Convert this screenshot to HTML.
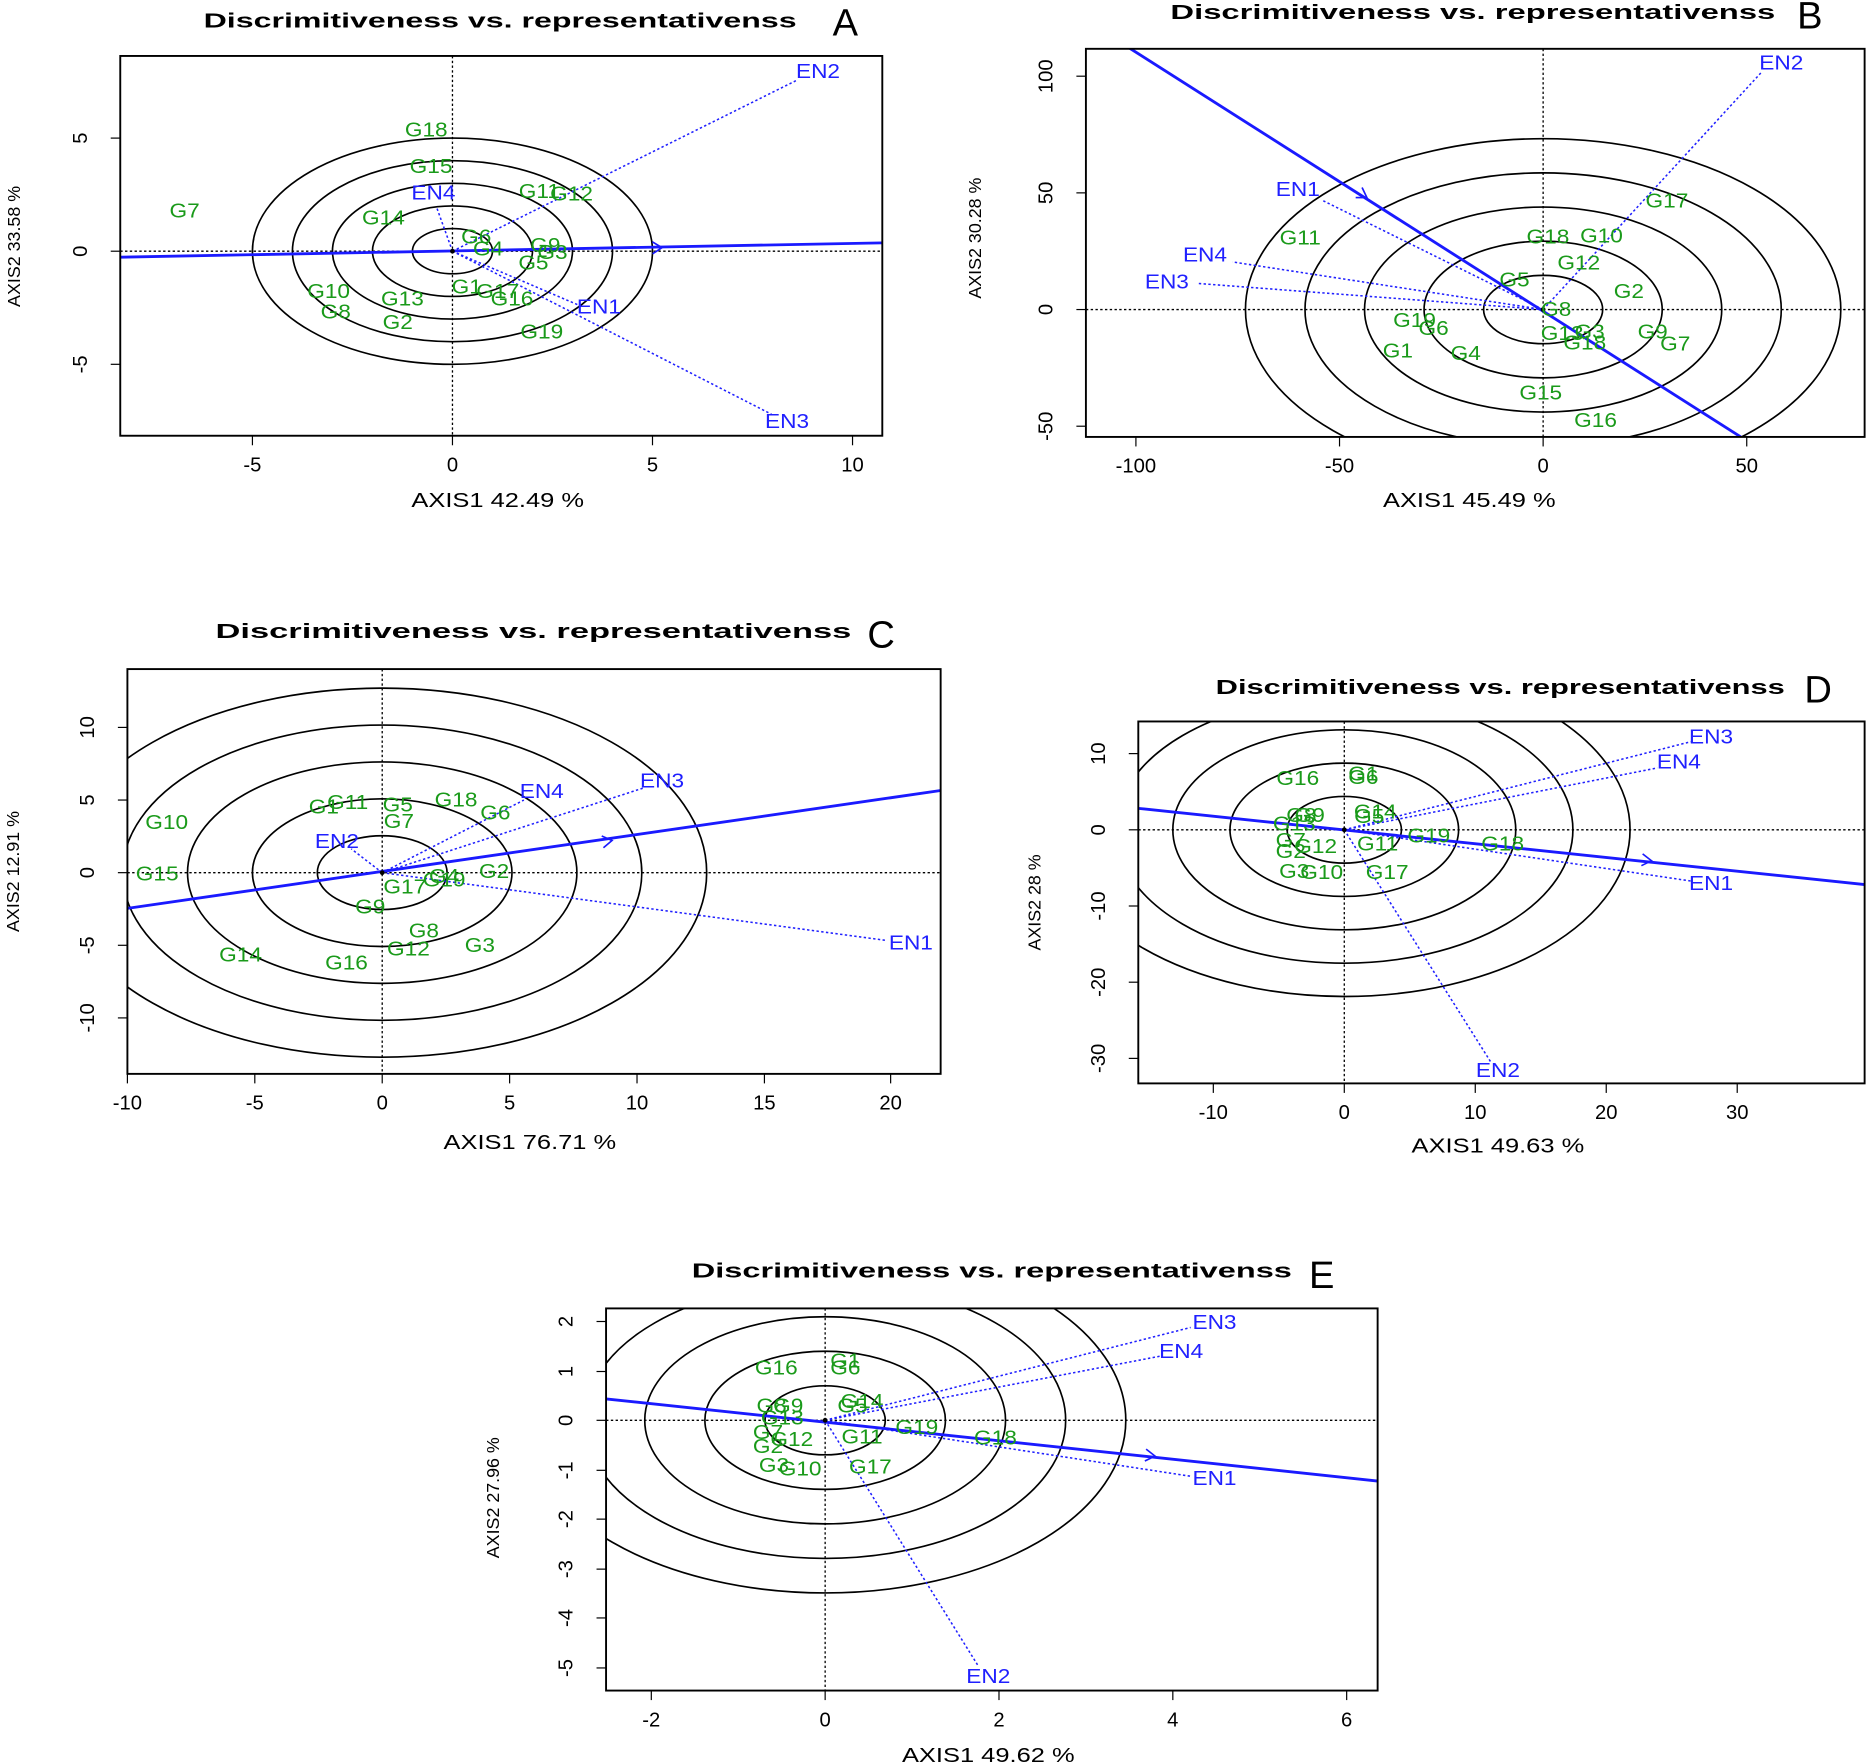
<!DOCTYPE html>
<html><head><meta charset="utf-8"><style>
html,body{margin:0;padding:0;background:#fff;}
svg{display:block;}
text{font-family:"Liberation Sans",Arial,sans-serif;}
</style></head><body>
<svg id="s" width="1867" height="1762" viewBox="0 0 1568 1480" preserveAspectRatio="none" xmlns="http://www.w3.org/2000/svg">
<defs></defs>
</svg>
<script>
const S=document.getElementById('s');const NS='http://www.w3.org/2000/svg';
function el(t,a,txt,par){const e=document.createElementNS(NS,t);for(const k in a)e.setAttribute(k,a[k]);if(txt!==undefined)e.textContent=txt;(par||S).appendChild(e);return e;}
let cid=0;
const FS=17;
function panel(p){
  const [x0,y0,x1,y1]=p.box;
  const id='c'+(cid++);
  const cp=el('clipPath',{id:id},undefined,S.querySelector('defs'));
  el('rect',{x:x0,y:y0,width:x1-x0,height:y1-y0},undefined,cp);
  const g=el('g',{'clip-path':'url(#'+id+')'});
  const [cx,cy]=p.c;
  p.r.forEach(([rx,ry])=>el('ellipse',{cx:cx,cy:cy,rx:rx,ry:ry,fill:'none',stroke:'#000','stroke-width':1.4},undefined,g));
  el('line',{x1:x0,y1:cy,x2:x1,y2:cy,stroke:'#000','stroke-width':1.1,'stroke-dasharray':'2,2'},undefined,g);
  el('line',{x1:cx,y1:y0,x2:cx,y2:y1,stroke:'#000','stroke-width':1.1,'stroke-dasharray':'2,2'},undefined,g);
  p.en.forEach(e=>{el('line',{x1:cx,y1:cy,x2:e[3],y2:e[4],stroke:'#2020ff','stroke-width':1.3,'stroke-dasharray':'2,2'},undefined,g);});
  el('line',{x1:p.avg[0],y1:p.avg[1],x2:p.avg[2],y2:p.avg[3],stroke:'#1a1aff','stroke-width':2.4},undefined,g);
  const [ax,ay]=p.arr;const dx=p.avg[2]-p.avg[0],dy=p.avg[3]-p.avg[1];const L=Math.hypot(dx,dy);const ux=dx/L,uy=dy/L;
  el('polyline',{points:`${ax-8*ux-5*uy},${ay-8*uy+5*ux} ${ax},${ay} ${ax-8*ux+5*uy},${ay-8*uy-5*ux}`,fill:'none',stroke:'#1a1aff','stroke-width':1.4},undefined,g);
  el('circle',{cx:cx,cy:cy,r:2,fill:'#000'},undefined,g);
  const tx=(t,c)=>{el('text',{x:t[1],y:t[2],'font-size':FS,fill:c,'text-anchor':'middle','dominant-baseline':'middle',transform:`translate(${t[1]} 0) scale(1.12 1) translate(${-t[1]} 0)`},t[0],g);};
  p.g.forEach(t=>tx(t,'#1a9a1a'));
  p.en.forEach(e=>tx(e,'#2020ff'));
  el('rect',{x:x0,y:y0,width:x1-x0,height:y1-y0,fill:'none',stroke:'#000','stroke-width':1.6});
  p.xt.forEach(t=>{el('line',{x1:t[1],y1:y1,x2:t[1],y2:y1+8,stroke:'#000'});el('text',{x:t[1],y:y1+30,'font-size':FS,'text-anchor':'middle'},t[0]);});
  p.yt.forEach(t=>{el('line',{x1:x0,y1:t[1],x2:x0-8,y2:t[1],stroke:'#000'});el('text',{x:x0-28,y:t[1],'font-size':FS,'text-anchor':'middle',transform:`rotate(-90 ${x0-28} ${t[1]})`},t[0]);});
  el('text',{x:p.xl[1],y:p.xl[2],'font-size':FS,'text-anchor':'middle',textLength:145,lengthAdjust:'spacingAndGlyphs'},p.xl[0]);
  el('text',{x:p.yl[1],y:p.yl[2],'font-size':15,'text-anchor':'middle',transform:`rotate(-90 ${p.yl[1]} ${p.yl[2]})`},p.yl[0]);
  el('text',{x:p.t[0],y:p.t[1],'font-size':17,'font-weight':'bold','text-anchor':'middle',textLength:p.t[2],lengthAdjust:'spacingAndGlyphs'},'Discrimitiveness vs. representativenss');
  el('text',{x:p.L[1],y:p.L[2],'font-size':32,'text-anchor':'middle'},p.L[0]);
}
function rr(a,b,n){const r=[];for(let k=1;k<=n;k++)r.push([a*k,b*k]);return r;}
// A
panel({box:[101,47,741,366],c:[380,211],r:rr(33.6,19,5),
 avg:[101,216,741,204],arr:[556,208],
 en:[['EN2',687,61,670,67],['EN4',364,163,367,175],['EN1',503,259,490,258],['EN3',661,355,648,348]],
 g:[['G18',358,110],['G15',362,141],['G11',453,162],['G12',480,164],['G7',155,178],['G14',322,184],['G6',400,200],['G4',410,210],['G9',458,207],['G3',464,213],['G5',448,222],['G1',392,242],['G17',418,246],['G16',430,252],['G10',276,246],['G13',338,252],['G8',282,263],['G2',334,272],['G19',455,280]],
 xt:[['-5',212],['0',380],['5',548],['10',716]],yt:[['5',116],['0',211],['-5',306]],
 xl:['AXIS1 42.49 %',418,426],yl:['AXIS2 33.58 %',17,207],t:[420,23,498],L:['A',710,30]});
// B
panel({box:[912,41,1566,367],c:[1296,260],r:rr(50,28.7,5),
 avg:[948,40,1462,367],arr:[1148,166],
 en:[['EN2',1496,54,1480,60],['EN1',1090,160,1110,168],['EN4',1012,215,1035,220],['EN3',980,238,1005,238]],
 g:[['G17',1400,170],['G18',1300,200],['G10',1345,199],['G12',1326,222],['G11',1092,201],['G2',1368,246],['G5',1272,236],['G8',1307,261],['G19',1188,270],['G6',1204,277],['G1',1174,296],['G4',1231,298],['G13',1312,281],['G3',1335,280],['G18',1331,289],['G9',1388,280],['G7',1407,290],['G15',1294,331],['G16',1340,354]],
 xt:[['-100',954],['-50',1125],['0',1296],['50',1467]],yt:[['100',64],['50',162],['0',260],['-50',358]],
 xl:['AXIS1 45.49 %',1234,426],yl:['AXIS2 30.28 %',824,200],t:[1237,16,508],L:['B',1520,24]});
// C
panel({box:[107,562,790,902],c:[321,733],r:rr(54.5,31,5),
 avg:[107,763,790,664],arr:[514,706],
 en:[['EN3',556,657,540,662],['EN4',455,666,440,672],['EN2',283,708,295,713],['EN1',765,793,745,790]],
 g:[['G10',140,692],['G15',132,735],['G1',272,679],['G11',292,675],['G5',334,677],['G18',383,673],['G6',416,684],['G7',335,691],['G4',373,737],['G2',415,733],['G17',340,746],['G19',373,740],['G9',311,763],['G8',356,783],['G3',403,795],['G12',343,798],['G16',291,810],['G14',202,803]],
 xt:[['-10',107],['-5',214],['0',321],['5',428],['10',535],['15',642],['20',748]],yt:[['10',611],['5',672],['0',733],['-5',794],['-10',855]],
 xl:['AXIS1 76.71 %',445,965],yl:['AXIS2 12.91 %',16,732],t:[448,536,534],L:['C',740,544]});
// D
panel({box:[956,606,1566,910],c:[1129,697],r:rr(48,28,5),
 avg:[956,679,1566,743],arr:[1387,723],
 en:[['EN3',1437,620,1420,623],['EN4',1410,641,1392,645],['EN1',1437,743,1420,740],['EN2',1258,900,1252,892]],
 g:[['G16',1090,655],['G1',1145,651],['G6',1145,654],['G14',1155,683],['G5',1150,687],['G8',1093,686],['G9',1100,686],['G13',1087,693],['G7',1084,707],['G2',1084,716],['G12',1105,712],['G11',1157,710],['G19',1200,703],['G18',1262,710],['G3',1087,733],['G10',1110,734],['G17',1165,734]],
 xt:[['-10',1019],['0',1129],['10',1239],['20',1349],['30',1459]],yt:[['10',633],['0',697],['-10',761],['-20',825],['-30',889]],
 xl:['AXIS1 49.63 %',1258,968],yl:['AXIS2 28 %',874,758],t:[1260,583,478],L:['D',1527,590]});
// E
panel({box:[509,1099,1157,1420],c:[693,1193],r:rr(50.5,29,5),
 avg:[509,1175,1157,1244],arr:[970,1223],
 en:[['EN3',1020,1112,1000,1115],['EN4',992,1136,975,1139],['EN1',1020,1243,1000,1240],['EN2',830,1409,822,1400]],
 g:[['G16',652,1150],['G1',710,1144],['G6',710,1150],['G14',724,1178],['G5',716,1182],['G8',648,1182],['G9',662,1182],['G13',657,1192],['G7',645,1204],['G12',665,1210],['G2',645,1216],['G11',724,1208],['G19',770,1200],['G18',836,1209],['G3',650,1232],['G10',672,1235],['G17',731,1233]],
 xt:[['-2',547],['0',693],['2',839],['4',985],['6',1131]],yt:[['2',1110],['1',1152],['0',1193],['-1',1235],['-2',1276],['-3',1318],['-4',1359],['-5',1401]],
 xl:['AXIS1 49.62 %',830,1480],yl:['AXIS2 27.96 %',419,1258],t:[833,1073,504],L:['E',1110,1082]});
</script>
</body></html>
